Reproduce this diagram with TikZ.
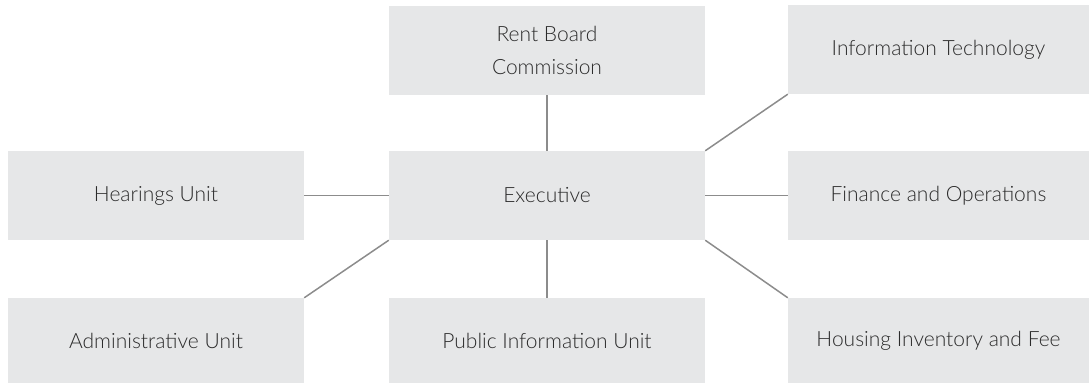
\documentclass[tikz,border=0pt]{standalone}
\usepackage{fontspec}
\setmainfont{Lato}[UprightFont={* Light}]
\usepackage{xcolor}
\definecolor{boxgrey}{HTML}{E6E7E8}
\definecolor{linegrey}{HTML}{8C8C8C}
\definecolor{textgrey}{HTML}{2B2B2B}
\usetikzlibrary{positioning}

\begin{document}
\begin{tikzpicture}[x=1pt, y=1pt,
  unit/.style={fill=boxgrey, draw=none, text=textgrey, align=center,
    inner sep=0pt, font=\fontsize{21}{33}\selectfont},
  widebox/.style={unit, minimum width=316pt},
  sidebox/.style={unit, minimum width=296pt},
  rightbox/.style={unit, minimum width=301pt},
  link/.style={draw=linegrey, line width=1.5pt}]
  \useasboundingbox (0,0) rectangle (1089,383);

  % middle column
  \node[widebox, minimum height=89pt] (rent) at (547, 332.5) {Rent Board\\Commission};
  \node[widebox, minimum height=89pt] (exec) at (547, 187.5) {Executive};
  \node[widebox, minimum height=85pt] (pub) at (547, 42.5) {Public Information Unit};

  % left column
  \node[sidebox, minimum height=89pt] (hear) at (156, 187.5) {Hearings Unit};
  \node[sidebox, minimum height=85pt] (admin) at (156, 42.5) {Administrative Unit};

  % right column
  \node[rightbox, minimum height=89pt] (it) at (938.5, 333.5) {Information Technology};
  \node[rightbox, minimum height=89pt] (fin) at (938.5, 187.5) {Finance and Operations};
  \node[rightbox, minimum height=85pt] (house) at (938.5, 42.5) {Housing Inventory and Fee};

  \draw[link] (rent.south) -- (exec.north);
  \draw[link] (exec.south) -- (pub.north);
  \draw[link] (hear.east) -- (exec.west);
  \draw[link] (admin.north east) -- (exec.south west);
  \draw[link] (exec.east) -- (fin.west);
  \draw[link] (exec.north east) -- (it.south west);
  \draw[link] (exec.south east) -- (house.north west);
\end{tikzpicture}
\end{document}
